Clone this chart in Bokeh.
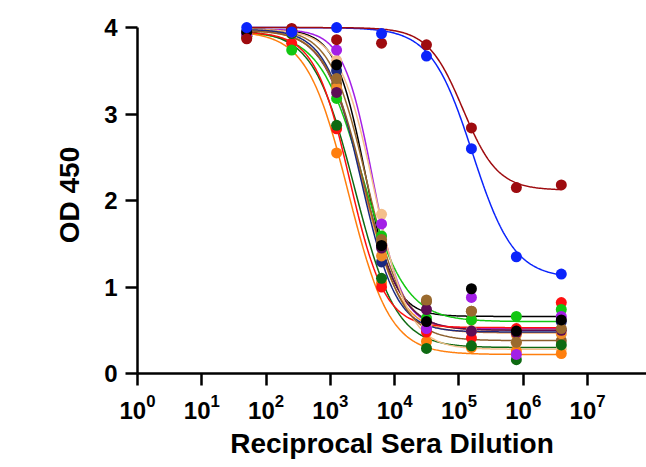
import numpy as np
from bokeh.plotting import figure
from bokeh.models import Range1d, FixedTicker, Label, LogTickFormatter
from bokeh.embed import file_html
from bokeh.resources import INLINE

# Reciprocal sera dilutions (5-fold series)
dilution = [50, 250, 1250, 6250, 31250, 156250, 781250, 3906250]

# OD450 readings per serum sample
blue_od = [4.00, 3.95, 4.00, 3.93, 3.67, 2.60, 1.35, 1.15]
darkred_od = [3.87, 3.99, 3.86, 3.82, 3.80, 2.84, 2.15, 2.18]
black_od = [3.95, 3.97, 3.57, 1.48, 0.60, 0.98, 0.49, 0.62]
purple_od = [3.92, 3.95, 3.74, 1.73, 0.52, 0.88, 0.22, 0.66]
brown_od = [3.90, 3.98, 3.41, 1.55, 0.85, 0.72, 0.36, 0.52]
plum_od = [3.93, 3.96, 3.25, 1.45, 0.74, 0.49, 0.47, 0.50]
green_od = [3.90, 3.74, 3.18, 1.59, 0.64, 0.62, 0.66, 0.74]
darkgreen_od = [3.90, 3.93, 2.87, 1.10, 0.29, 0.32, 0.16, 0.33]
red_od = [3.90, 3.82, 2.83, 1.00, 0.48, 0.41, 0.52, 0.82]
orange_od = [3.88, 3.93, 2.55, 1.05, 0.37, 0.30, 0.26, 0.23]
orange2_od = [3.91, 3.95, 3.30, 1.36, 0.52, 0.62, 0.45, 0.46]
tan_od = [3.93, 3.97, 3.62, 1.84, 0.55, 0.50, 0.35, 0.28]
navy_od = [3.95, 3.97, 3.50, 1.29, 0.52, 0.49, 0.48, 0.60]
sienna_od = [3.89, 3.96, 3.35, 1.50, 0.83, 0.72, 0.36, 0.38]

# 4-parameter logistic fit parameters: top, bottom, log10(EC50), Hill slope
fit_top = [4.00, 4.00, 3.98, 3.98, 3.99, 3.98, 3.95, 3.97, 3.95, 3.96, 3.97, 3.98, 3.98, 3.97]
fit_bottom = [1.10, 2.12, 0.66, 0.52, 0.50, 0.50, 0.60, 0.30, 0.53, 0.22, 0.47, 0.28, 0.48, 0.38]
fit_logec50 = [5.21, 5.06, 3.54, 3.66, 3.56, 3.50, 3.50, 3.38, 3.30, 3.28, 3.50, 3.68, 3.48, 3.53]
fit_hill = [1.35, 1.60, 1.90, 1.90, 1.55, 1.45, 1.30, 1.35, 1.60, 1.35, 1.50, 1.60, 1.60, 1.45]

series_od = [blue_od, darkred_od, black_od, purple_od, brown_od, plum_od, green_od,
             darkgreen_od, red_od, orange_od, orange2_od, tan_od, navy_od, sienna_od]
colors = ["#0B24FB", "#9E0B0F", "#000000", "#A31FE6", "#9A6A2E", "#5E0D55", "#12C712",
          "#0E6A12", "#FF1010", "#FF7F0E", "#F28C28", "#F4BF8B", "#1B2A80", "#8B5E2B"]

xticks = [1, 10, 100, 1000, 10**4, 10**5, 10**6, 10**7]
yticks = [0, 1, 2, 3, 4]

FONT = "Liberation Sans"

p = figure(width=646, height=467, x_axis_type="log",
           x_range=Range1d(1, 10**7.917), y_range=Range1d(0, 4.128),
           output_backend="svg", toolbar_location=None,
           min_border_left=137, min_border_right=0, min_border_top=16, min_border_bottom=94)
p.outline_line_color = None
p.grid.grid_line_color = None
p.background_fill_color = "white"

# fitted curves
for od, col, top, bot, ec, h in zip(series_od, colors, fit_top, fit_bottom, fit_logec50, fit_hill):
    lx = np.linspace(np.log10(dilution[0]), np.log10(dilution[-1]), 300)
    yy = bot + (top - bot) / (1 + 10 ** (h * (lx - ec)))
    p.line(10 ** lx, yy, line_color=col, line_width=1.5)

# data points
for od, col in zip(reversed(series_od), reversed(colors)):
    p.scatter(dilution, od, size=11, fill_color=col, line_color=col, line_width=0)

for ax in (p.xaxis[0], p.yaxis[0]):
    ax.axis_line_width = 2.5
    ax.major_tick_line_width = 2.5
    ax.major_tick_out = 12
    ax.major_tick_in = 0
    ax.minor_tick_out = 0
    ax.minor_tick_in = 0
    ax.major_label_text_font = FONT
    ax.major_label_text_font_style = "bold"
    ax.major_label_text_color = "black"
    ax.axis_label_text_font = FONT
    ax.axis_label_text_font_style = "bold"
    ax.axis_label_text_color = "black"
    ax.axis_label_text_font_size = "28px"

p.xaxis.ticker = FixedTicker(ticks=xticks, minor_ticks=[])
p.xaxis.formatter = LogTickFormatter()
p.xaxis.bounds = (1, 1e8)
p.xaxis.major_label_text_font_size = "24px"
p.xaxis.major_label_standoff = 8
p.xaxis.axis_label = "Reciprocal Sera Dilution"
p.xaxis.axis_label_standoff = 6

p.yaxis.ticker = FixedTicker(ticks=yticks, minor_ticks=[])
p.yaxis.bounds = (0, 4)
p.yaxis.major_label_text_font_size = "24px"
p.yaxis.major_label_standoff = 8
p.yaxis.axis_label = "OD 450"
p.yaxis.axis_label_standoff = 16

# partially visible 10^8 label at the cut-off right edge
p.add_layout(Label(x=1e8, y=0, text="10", text_font=FONT, text_font_style="bold",
                   text_font_size="24px", text_align="center", text_baseline="top",
                   y_offset=-24, x_offset=-6))

open("out.html", "w").write(file_html(p, INLINE))
